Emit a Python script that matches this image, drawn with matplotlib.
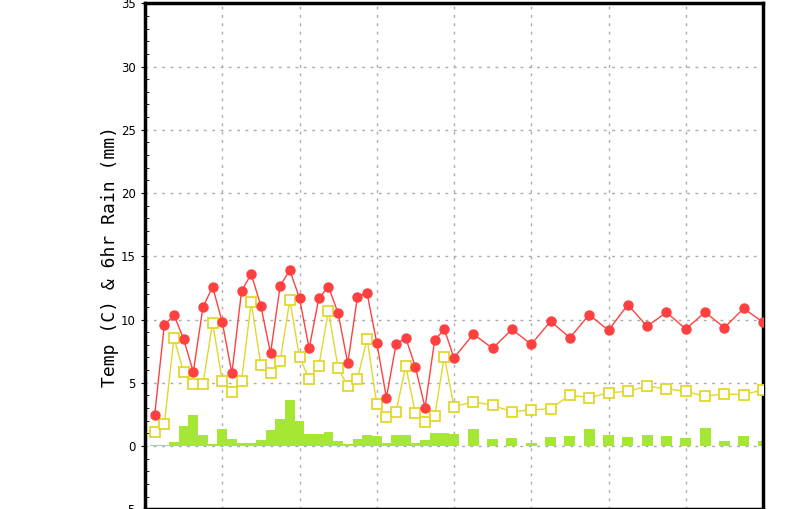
import numpy as np
import matplotlib.pyplot as plt
from matplotlib.ticker import MultipleLocator

# forecast hours: 3-hourly to 96h, then 6-hourly to 192h
hours_3h = list(range(3, 97, 3))
hours_6h = list(range(102, 193, 6))
hours = hours_3h + hours_6h

temp_max = [2.45, 9.56, 10.35, 8.46, 5.85, 10.96, 12.6, 9.78, 5.75, 12.25, 13.6, 11.07,
            7.33, 12.67, 13.9, 11.67, 7.72, 11.67, 12.6, 10.49, 6.54, 11.8, 12.07, 8.17,
            3.82, 8.04, 8.56, 6.25, 3.03, 8.38, 9.22, 6.96,
            8.85, 7.72, 9.22, 8.04, 9.86, 8.56, 10.38, 9.14, 11.17, 9.46, 10.57, 9.25,
            10.57, 9.36, 10.88, 9.78]

temp_dew = [1.13, 1.74, 8.56, 5.82, 4.87, 4.87, 9.75, 5.16, 4.29, 5.16, 11.36, 6.40,
            5.80, 6.75, 11.54, 7.01, 5.32, 6.32, 10.70, 6.14, 4.74, 5.32, 8.48, 3.32,
            2.32, 2.71, 6.32, 2.61, 1.90, 2.40, 7.06, 3.11,
            3.50, 3.22, 2.71, 2.85, 2.95, 4.03, 3.82, 4.21, 4.32, 4.72, 4.53, 4.32,
            3.93, 4.13, 4.06, 4.45]

rain = [0.08, 0.08, 0.35, 1.6, 2.45, 0.87, 0.16, 1.35, 0.55, 0.24, 0.24, 0.47,
        1.27, 2.14, 3.65, 1.98, 0.95, 0.95, 1.11, 0.42, 0.16, 0.55, 0.87, 0.82,
        0.24, 0.87, 0.87, 0.24, 0.47, 1.03, 1.03, 0.95,
        1.34, 0.55, 0.63, 0.24, 0.71, 0.79, 1.34, 0.87, 0.71, 0.87, 0.79, 0.63,
        1.42, 0.40, 0.79, 0.40]

fig = plt.figure(figsize=(8, 5.09), dpi=100)
ax = fig.add_axes([145/800, -0.0005, 618/800, 506/509])

widths = [3.0]*len(hours_3h) + [3.4]*len(hours_6h)
ax.bar(hours, rain, width=widths, color='#a6e634', zorder=2)

ax.plot(hours, temp_max, color='#ff4040', lw=1, marker='o', ms=6.5,
        mfc='#ff4040', mec='#ff4040', zorder=4)
ax.plot(hours, temp_dew, color='#e0d82c', lw=1, marker='s', ms=7,
        mfc='white', mec='#e0d82c', mew=1.3, zorder=3)

ax.set_xlim(0, 192)
ax.set_ylim(-5, 35)
ax.xaxis.set_major_locator(MultipleLocator(24))
ax.yaxis.set_major_locator(MultipleLocator(5))
ax.yaxis.set_minor_locator(MultipleLocator(1))
ax.grid(True, color='#aaaaaa', linestyle=(0, (2, 4)), lw=1, zorder=1)
ax.set_axisbelow(True)

for s in ax.spines.values():
    s.set_linewidth(2.5)
ax.tick_params(axis='y', which='minor', direction='in', length=3)
ax.tick_params(axis='y', which='major', direction='out', length=3, labelsize=8.5)
ax.tick_params(axis='x', labelbottom=False)
ax.set_ylabel('Temp (C) & 6hr Rain (mm)', fontsize=13, family='DejaVu Sans Mono', labelpad=0)

fig.savefig('out.png', dpi=100)
